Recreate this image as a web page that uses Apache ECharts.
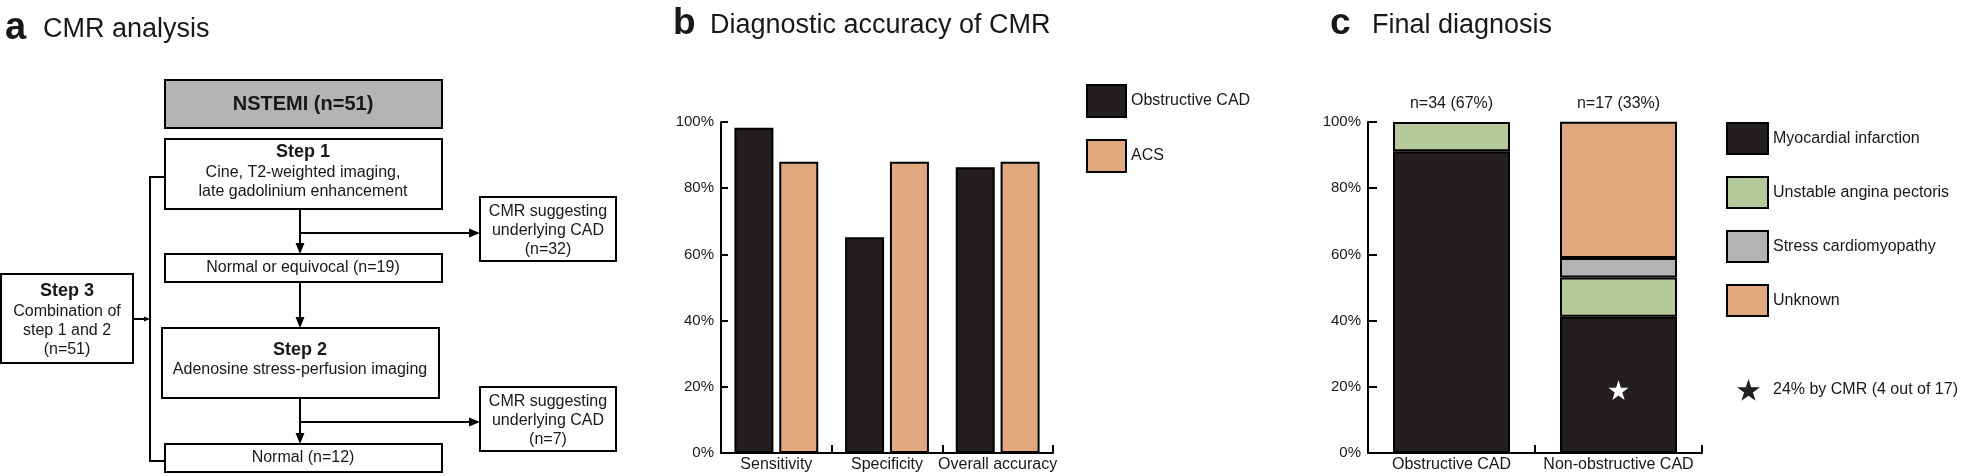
<!DOCTYPE html>
<html>
<head>
<meta charset="utf-8">
<script src="https://cdn.jsdelivr.net/npm/echarts@6/dist/echarts.min.js"></script>
<style>
  html, body { margin: 0; padding: 0; background: #fff; }
  #chart { width: 1968px; height: 476px; }
</style>
</head>
<body>
<div id="chart"></div>
<script>
// ---------- data ----------
const panelTitles = ['CMR analysis', 'Diagnostic accuracy of CMR', 'Final diagnosis'];
const panelLetters = ['a', 'b', 'c'];

// panel a flow chart texts
const nstemiText = 'NSTEMI (n=51)';
const step1Lines = ['Step 1', 'Cine, T2-weighted imaging,', 'late gadolinium enhancement'];
const normalEquivocalText = 'Normal or equivocal (n=19)';
const step2Lines = ['Step 2', 'Adenosine stress-perfusion imaging'];
const normalText = 'Normal (n=12)';
const cadLines1 = ['CMR suggesting', 'underlying CAD', '(n=32)'];
const cadLines2 = ['CMR suggesting', 'underlying CAD', '(n=7)'];
const step3Lines = ['Step 3', 'Combination of', 'step 1 and 2', '(n=51)'];

// panel b
const accuracyCategories = ['Sensitivity', 'Specificity', 'Overall accuracy'];
const obstructiveCadValues = [98.3, 65.2, 86.3];
const acsValues = [88.0, 88.0, 88.0];

// panel c
const diagnosisCategories = ['Obstructive CAD', 'Non-obstructive CAD'];
const groupSizeLabels = ['n=34 (67%)', 'n=17 (33%)'];
const myocardialInfarction = [91.2, 41.2];
const unstableAngina = [8.8, 11.8];
const stressCardiomyopathy = [null, 5.9];
const unknownDiagnosis = [null, 41.2];
const cmrDetectedLabel = '24% by CMR (4 out of 17)';
const cmrDetectedPoint = [[1, 19]];

const yTicks = [0, 20, 40, 60, 80, 100];

// ---------- styles ----------
const FONT = '"Liberation Sans", Arial, Helvetica, sans-serif';
const INK = '#1a1718';
const C_BLACK = '#231f20';
const C_ORANGE = '#e3a97e';
const C_GREEN = '#b6c99a';
const C_GRAY = '#b3b3b3';
const STAR = 'path://M50,0 L61.2,34.5 L97.6,34.5 L68.2,55.9 L79.4,90.5 L50,69.1 L20.6,90.5 L31.8,55.9 L2.4,34.5 L38.8,34.5 Z';

// ---------- flowchart graphic helpers ----------
const g = [];
function box(x, y, w, h, fill) {
  g.push({ type: 'rect', shape: { x: x, y: y, width: w, height: h },
    style: { fill: fill || '#fff', stroke: '#000', lineWidth: 2 }, z: 1 });
}
function txt(x, y, s, size, bold, align) {
  g.push({ type: 'text', x: x, y: y, z: 5,
    style: { text: s, font: (bold ? 'bold ' : '') + size + 'px ' + FONT,
      fill: INK, align: align || 'center', verticalAlign: 'middle' } });
}
function line(points) {
  g.push({ type: 'polyline', shape: { points: points },
    style: { stroke: '#000', lineWidth: 2, fill: null }, z: 2 });
}
function arrowDown(x, y) {
  g.push({ type: 'polygon', shape: { points: [[x - 4.5, y - 11], [x + 4.5, y - 11], [x, y]] },
    style: { fill: '#000' }, z: 3 });
}
function arrowRight(x, y, len, half) {
  len = len || 11; half = half || 4.5;
  g.push({ type: 'polygon', shape: { points: [[x - len, y - half], [x - len, y + half], [x, y]] },
    style: { fill: '#000' }, z: 3 });
}

// titles
txt(5, 29, panelLetters[0], 38, true, 'left');
txt(43, 30, panelTitles[0], 27, false, 'left');
txt(673, 24, panelLetters[1], 37, true, 'left');
txt(710, 26, panelTitles[1], 27, false, 'left');
txt(1330, 24, panelLetters[2], 37, true, 'left');
txt(1372, 26, panelTitles[2], 27, false, 'left');

// boxes
box(165, 80, 277, 48, C_GRAY);
txt(303, 104, nstemiText, 20, true);

box(165, 139, 277, 70);
txt(303, 152, step1Lines[0], 18, true);
txt(303, 173, step1Lines[1], 16);
txt(303, 192, step1Lines[2], 16);

box(480, 197, 136, 64);
cadLines1.forEach((s, i) => txt(548, 212 + i * 19, s, 16));

box(165, 254, 277, 28);
txt(303, 268, normalEquivocalText, 16);

box(162, 328, 277, 70);
txt(300, 350, step2Lines[0], 18, true);
txt(300, 370, step2Lines[1], 16);

box(480, 387, 136, 64);
cadLines2.forEach((s, i) => txt(548, 402 + i * 19, s, 16));

box(165, 444, 277, 28);
txt(303, 458, normalText, 16);

box(1, 274, 132, 89);
txt(67, 291, step3Lines[0], 18, true);
txt(67, 312, step3Lines[1], 16);
txt(67, 331, step3Lines[2], 16);
txt(67, 350, step3Lines[3], 16);

// arrows
line([[300, 209], [300, 246]]); arrowDown(300, 254);
line([[300, 233], [472, 233]]); arrowRight(480, 233);
line([[300, 282], [300, 320]]); arrowDown(300, 328);
line([[300, 398], [300, 436]]); arrowDown(300, 444);
line([[300, 422], [472, 422]]); arrowRight(480, 422);
// bracket for step 3
line([[165, 177], [150, 177], [150, 461], [165, 461]]);
line([[133, 319], [146, 319]]); arrowRight(150, 319, 6, 2.5);

// ---------- chart ----------
const chart = echarts.init(document.getElementById('chart'), null, { renderer: 'canvas' });

function yAxisCfg(gridIndex, tickLen) {
  return {
    type: 'value', gridIndex: gridIndex, min: 0, max: 100, interval: 20,
    axisLine: { show: true, lineStyle: { color: '#000', width: 2 } },
    axisTick: { show: true, inside: true, length: tickLen, lineStyle: { color: '#000', width: 2 } },
    axisLabel: { formatter: v => (yTicks.indexOf(v) >= 0 ? v + '%' : ''), fontSize: 15, color: INK,
      fontFamily: FONT, margin: 7 },
    splitLine: { show: false }
  };
}

const option = {
  animation: false,
  backgroundColor: '#fff',
  textStyle: { fontFamily: FONT },
  grid: [
    { left: 721, top: 122, width: 332, height: 331 },
    { left: 1368, top: 122, width: 334, height: 331 }
  ],
  xAxis: [
    { type: 'category', gridIndex: 0, data: accuracyCategories,
      axisLine: { lineStyle: { color: '#000', width: 2 } },
      axisTick: { show: true, inside: true, length: 8, alignWithLabel: false, lineStyle: { color: '#000', width: 2 } },
      axisLabel: { fontSize: 16, color: INK, fontFamily: FONT, margin: 4, interval: 0 } },
    { type: 'category', gridIndex: 1, data: diagnosisCategories,
      axisLine: { lineStyle: { color: '#000', width: 2 } },
      axisTick: { show: true, inside: true, length: 8, alignWithLabel: false, lineStyle: { color: '#000', width: 2 } },
      axisLabel: { fontSize: 16, color: INK, fontFamily: FONT, margin: 4, interval: 0 } },
    { type: 'category', gridIndex: 1, position: 'top', data: groupSizeLabels,
      axisLine: { show: false }, axisTick: { show: false },
      axisLabel: { fontSize: 16, color: INK, fontFamily: FONT, margin: 10, interval: 0 } }
  ],
  yAxis: [yAxisCfg(0, 7), yAxisCfg(1, 9)],
  legend: [
    { data: ['Obstructive CAD', 'ACS'], orient: 'vertical', left: 1086, top: 84, padding: 0,
      itemWidth: 39, itemHeight: 32, itemGap: 21, icon: 'rect',
      itemStyle: { borderColor: '#000', borderWidth: 2 },
      textStyle: { fontSize: 16, color: INK, fontFamily: FONT } },
    { data: ['Myocardial infarction', 'Unstable angina pectoris', 'Stress cardiomyopathy', 'Unknown'],
      orient: 'vertical', left: 1726, top: 122, padding: 0,
      itemWidth: 41, itemHeight: 31, itemGap: 21, icon: 'rect',
      itemStyle: { borderColor: '#000', borderWidth: 2 },
      textStyle: { fontSize: 16, color: INK, fontFamily: FONT } },
    { data: [{ name: cmrDetectedLabel, icon: STAR,
        itemStyle: { color: C_BLACK, borderWidth: 0, opacity: 1 } }],
      orient: 'vertical', left: 1737, top: 379, padding: 0,
      itemWidth: 23, itemHeight: 22,
      textStyle: { fontSize: 16, color: INK, fontFamily: FONT, padding: [0, 0, 0, 8] } }
  ],
  series: [
    { name: 'Obstructive CAD', type: 'bar', xAxisIndex: 0, yAxisIndex: 0, data: obstructiveCadValues,
      barWidth: 39, barGap: '15%',
      itemStyle: { color: C_BLACK, borderColor: '#000', borderWidth: 2 } },
    { name: 'ACS', type: 'bar', xAxisIndex: 0, yAxisIndex: 0, data: acsValues,
      barWidth: 39, barGap: '15%',
      itemStyle: { color: C_ORANGE, borderColor: '#000', borderWidth: 2 } },
    { name: 'Myocardial infarction', type: 'bar', stack: 'dx', xAxisIndex: 1, yAxisIndex: 1,
      data: myocardialInfarction, barWidth: 117,
      itemStyle: { color: C_BLACK, borderColor: '#000', borderWidth: 2 } },
    { name: 'Unstable angina pectoris', type: 'bar', stack: 'dx', xAxisIndex: 1, yAxisIndex: 1,
      data: unstableAngina, barWidth: 117,
      itemStyle: { color: C_GREEN, borderColor: '#000', borderWidth: 2 } },
    { name: 'Stress cardiomyopathy', type: 'bar', stack: 'dx', xAxisIndex: 1, yAxisIndex: 1,
      data: stressCardiomyopathy, barWidth: 117,
      itemStyle: { color: C_GRAY, borderColor: '#000', borderWidth: 2 } },
    { name: 'Unknown', type: 'bar', stack: 'dx', xAxisIndex: 1, yAxisIndex: 1,
      data: unknownDiagnosis, barWidth: 117,
      itemStyle: { color: C_ORANGE, borderColor: '#000', borderWidth: 2 } },
    { name: cmrDetectedLabel, type: 'scatter', xAxisIndex: 1, yAxisIndex: 1,
      data: cmrDetectedPoint, symbol: STAR, symbolSize: 20, z: 10,
      itemStyle: { color: '#fff', opacity: 1 } }
  ],
  graphic: { elements: g }
};
chart.setOption(option);
</script>
</body>
</html>
